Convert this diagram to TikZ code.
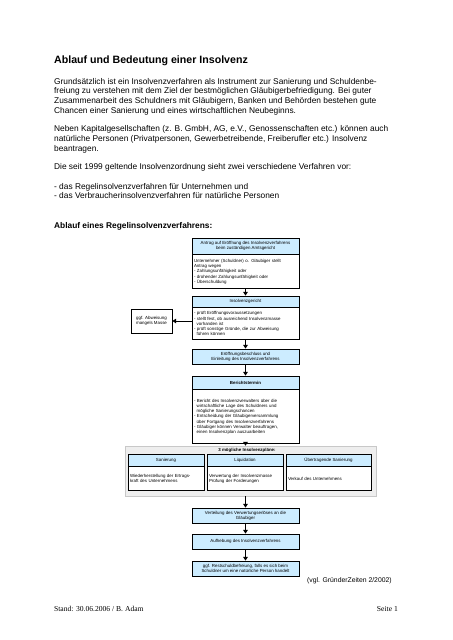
\documentclass[tikz,border=0pt]{standalone}
\usepackage{fontspec}
\setmainfont{Liberation Sans}
\newfontfamily\fussfont{Liberation Serif}
\usetikzlibrary{positioning,arrows.meta}
\newdimen\pxu \pxu=1.317pt
\definecolor{kopfblau}{RGB}{204,236,255}
\definecolor{graufill}{RGB}{238,238,238}
\definecolor{graurand}{RGB}{200,200,200}
\newcommand{\diafont}{\fontsize{5.8}{6.9}\selectfont}
\newcommand{\ein}{\hspace*{.61em}}

\begin{document}
\begin{tikzpicture}[x=1.317pt,y=-1.317pt]
  \tikzset{
    fliess/.style={inner sep=0pt, anchor=north west, align=left, font=\fontsize{11}{12.65}\selectfont},
    kopf/.style={draw=black, fill=kopfblau, line width=0.9pt, minimum width=107\pxu, inner sep=0pt, align=center, font=\diafont},
    rumpf/.style={draw=black, fill=white, line width=0.9pt, minimum width=107\pxu, inner sep=0pt, align=left, text width=103\pxu, font=\diafont},
    planrumpf/.style={rumpf, minimum width=76\pxu, text width=72\pxu, minimum height=24\pxu},
    pfeil/.style={line width=1.2pt, -{Triangle[length=5pt,width=6pt]}}
  }

  \fill[white] (0,0) rectangle (452,640);
  \useasboundingbox (0,0) rectangle (452,640);

  \node[anchor=base west, inner sep=0pt, font=\bfseries\fontsize{14}{16}\selectfont] (titel) at (54,63.8) {Ablauf und Bedeutung einer Insolvenz};
  \node[fliess] (absatza) at (54,77.5) {\strut Grundsätzlich ist ein Insolvenzverfahren als Instrument zur Sanierung und Schuldenbe-\\freiung zu verstehen mit dem Ziel der bestmöglichen Gläubigerbefriedigung. Bei guter\\Zusammenarbeit des Schuldners mit Gläubigern, Banken und Behörden bestehen gute\\Chancen einer Sanierung und eines wirtschaftlichen Neubeginns.};
  \node[fliess] (absatzb) at (54,125) {\strut Neben Kapitalgesellschaften (z. B. GmbH, AG, e.V., Genossenschaften etc.) können auch\\natürliche Personen (Privatpersonen, Gewerbetreibende, Freiberufler etc.) Insolvenz\\beantragen.};
  \node[fliess] (absatzc) at (54,163) {\strut Die seit 1999 geltende Insolvenzordnung sieht zwei verschiedene Verfahren vor:};
  \node[fliess] (liste) at (54,182.3) {\strut - das Regelinsolvenzverfahren für Unternehmen und\\- das Verbraucherinsolvenzverfahren für natürliche Personen};
  \node[anchor=base west, inner sep=0pt, font=\bfseries\fontsize{11}{12.65}\selectfont] (ablauf) at (54,228) {Ablauf eines Regelinsolvenzverfahrens:};

  \node[kopf, minimum height=16\pxu] (antragkopf) at (245.5,246) {Antrag auf Eröffnung des Insolvenzverfahrens\\beim zuständigen Amtsgericht};
  \node[rumpf, minimum height=34\pxu, below=0pt of antragkopf] (antragtext) {Unternehmer (Schuldner) o. Gläubiger stellt\\Antrag wegen\\- Zahlungsunfähigkeit oder\\- drohender Zahlungsunfähigkeit oder\\- Überschuldung};

  \node[kopf, minimum height=11\pxu] (gerichtkopf) at (245.5,301.5) {Insolvenzgericht};
  \node[rumpf, minimum height=32\pxu, below=0pt of gerichtkopf] (gerichttext) {- prüft Eröffnungsvoraussetzungen\\- stellt fest, ob ausreichend Insolvenzmasse\\\ein vorhanden ist\\- prüft sonstige Gründe, die zur Abweisung\\\ein führen können};
  \node[draw=black, fill=white, line width=0.9pt, minimum width=41\pxu, minimum height=24\pxu, inner sep=0pt, align=center, font=\diafont] (abweisung) at (151.5,321) {ggf. Abweisung\\mangels Masse};

  \node[kopf, minimum height=15\pxu] (eroeffnung) at (245.5,356.5) {Eröffnungsbeschluss und\\Einleitung des Insolvenzverfahrens};

  \node[kopf, minimum height=13\pxu, font=\diafont\bfseries] (berichtkopf) at (245.5,382.5) {Berichtstermin};
  \node[rumpf, minimum height=54\pxu, below=0pt of berichtkopf] (berichttext) {- Bericht des Insolvenzverwalters über die\\\ein wirtschaftliche Lage des Schuldners und\\\ein mögliche Sanierungschancen\\- Entscheidung der Gläubigerversammlung\\\ein über Fortgang des Insolvenzverfahrens\\- Gläubiger können Verwalter beauftragen,\\\ein einen Insolvenzplan auszuarbeiten};

  \node[draw=graurand, fill=graufill, line width=0.6pt, minimum width=251\pxu, minimum height=50\pxu, inner sep=0pt] (plaene) at (250.5,471) {};
  \node[font=\diafont\bfseries, inner sep=0pt] (plantitel) at (247,450) {3 mögliche Insolvenzpläne:};
  \node[kopf, minimum width=76\pxu, minimum height=12\pxu] (sanierungkopf) at (166,460) {Sanierung};
  \node[planrumpf, below=0pt of sanierungkopf] (sanierungtext) {Wiederherstellung der Ertrags-\\kraft des Unternehmens};
  \node[kopf, minimum width=76\pxu, minimum height=12\pxu] (liquidationkopf) at (245,460) {Liquidation};
  \node[planrumpf, below=0pt of liquidationkopf] (liquidationtext) {Verwertung der Insolvenzmasse\\Prüfung der Forderungen};
  \node[kopf, minimum width=85\pxu, minimum height=12\pxu] (uebertragkopf) at (328.5,460) {Übertragende Sanierung};
  \node[planrumpf, minimum width=85\pxu, text width=81\pxu, below=0pt of uebertragkopf] (uebertragtext) {Verkauf des Unternehmens};

  \node[kopf, minimum height=15\pxu] (verteilung) at (245.5,515.5) {Verteilung des Verwertungserlöses an die\\Gläubiger};
  \node[kopf, minimum height=15\pxu] (aufhebung) at (245.5,541.5) {Aufhebung des Insolvenzverfahrens};
  \node[kopf, minimum height=15\pxu] (restschuld) at (245.5,568.5) {ggf. Restschuldbefreiung, falls es sich beim\\Schuldner um eine natürliche Person handelt};

  \node[anchor=base west, inner sep=0pt, font=\fontsize{9}{10}\selectfont] (quelle) at (307,582) {(vgl. GründerZeiten 2/2002)};
  \node[anchor=base west, inner sep=0pt, font=\fussfont\fontsize{10}{12}\selectfont] (stand) at (54,611) {Stand: 30.06.2006 / B. Adam};
  \node[anchor=base east, inner sep=0pt, font=\fussfont\fontsize{10}{12}\selectfont] (seite) at (398,611) {Seite 1};

  \draw[pfeil] (antragtext) -- (gerichtkopf);
  \draw[pfeil] (gerichttext.west |- abweisung.east) -- (abweisung.east);
  \draw[pfeil] (gerichttext) -- (eroeffnung);
  \draw[pfeil] (eroeffnung) -- (berichtkopf);
  \draw[pfeil] (berichttext.south) -- (berichttext.south |- plaene.north);
  \draw[pfeil] (plaene.south -| verteilung.north) -- (verteilung.north);
  \draw[pfeil] (verteilung) -- (aufhebung);
  \draw[pfeil] (aufhebung) -- (restschuld);
\end{tikzpicture}
\end{document}
